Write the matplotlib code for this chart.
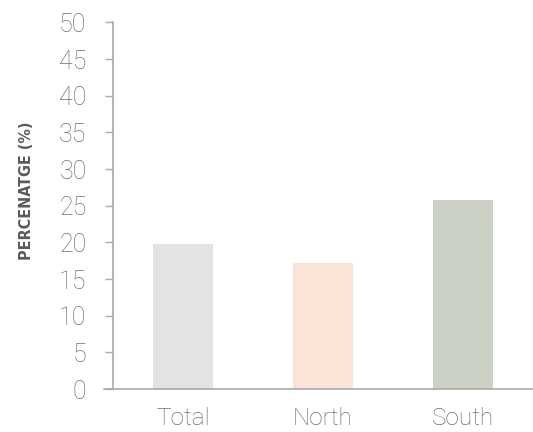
import matplotlib
matplotlib.use("Agg")
import matplotlib.pyplot as plt

categories = ["Total", "North", "South"]
values = [19.8, 17.2, 25.8]
colors = ["#e3e3e3", "#f9e4d7", "#cbd2c5"]
yticks = [0, 5, 10, 15, 20, 25, 30, 35, 40, 45, 50]

fig = plt.figure(figsize=(5.33, 4.32), dpi=100)
ax = fig.add_axes([0.212, 0.0995, 0.788, 0.8485])

x = list(range(len(categories)))
ax.bar(x, values, width=0.435, color=colors, zorder=2)

ax.set_xlim(-0.5, 2.5)
ax.set_ylim(0, 50)
ax.set_yticks(yticks)
ax.set_xticks(x)
ax.set_xticklabels(categories)

for s in ["top", "right"]:
    ax.spines[s].set_visible(False)
for s in ["left", "bottom"]:
    ax.spines[s].set_color("#aaaaaa")
    ax.spines[s].set_linewidth(1.2)

ax.tick_params(axis="y", length=6, width=1.0, color="#aaaaaa", pad=13,
               labelsize=18, labelcolor="#6e6e6e")
ax.tick_params(axis="x", length=0, pad=13, labelsize=17.5, labelcolor="#6e6e6e")
for lab in ax.get_yticklabels() + ax.get_xticklabels():
    lab.set_family(["Roboto", "DejaVu Sans"])
    lab.set_fontweight("light")

ax.plot([-0.565, -0.5], [0, 0], color="#aaaaaa", lw=1.2, clip_on=False)

fig.text(0.049, 1 - 191 / 432, "PERCENATGE (%)", rotation=90, ha="center", va="center",
         fontsize=11.5, fontweight="bold", color="#5a5a5a",
         family=["DejaVu Sans"], fontstretch="condensed")

fig.savefig("out.png", dpi=100)
